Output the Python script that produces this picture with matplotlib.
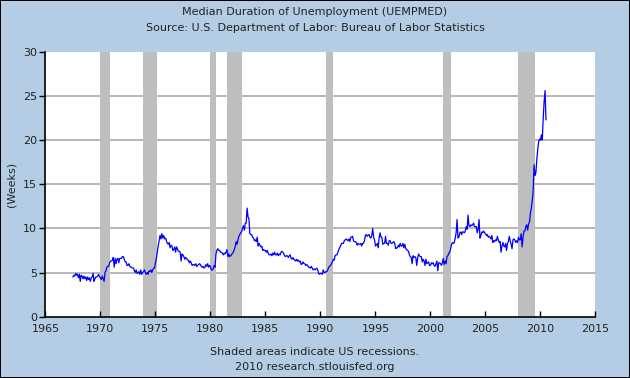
import numpy as np
import matplotlib
matplotlib.use("Agg")
from matplotlib import pyplot as plt

# Median duration of unemployment, weeks, monthly from Jul 1967
start_year = 1967
start_month = 7
median_weeks = [
    4.5, 4.7, 4.6, 4.9, 4.7, 4.8,
    4.4, 4.8, 4.0, 4.7, 4.6, 4.3, 4.6, 4.3, 4.5, 4.1, 4.5, 4.2,
    4.4, 4.0, 4.4, 4.5, 4.9, 4.0, 4.3, 4.5, 4.5, 4.6, 4.8, 4.5,
    4.4, 4.2, 4.6, 4.3, 4.0, 5.0, 5.2, 5.6, 5.7, 5.7, 6.1, 6.3,
    6.3, 6.4, 6.7, 5.6, 6.6, 6.0, 6.5, 6.6, 6.1, 6.6, 6.6, 6.6,
    6.8, 6.8, 6.5, 6.2, 6.2, 5.8, 5.8, 6.0, 5.7, 5.6, 5.6, 5.5,
    5.5, 5.2, 5.0, 5.3, 4.9, 5.0, 5.1, 4.8, 5.3, 4.8, 5.0, 5.1,
    5.3, 5.0, 4.8, 5.0, 4.8, 5.2, 5.1, 5.3, 5.0, 5.3, 5.5, 5.5,
    6.1, 6.6, 7.3, 8.0, 8.6, 9.2, 8.8, 9.4, 8.9, 9.2, 8.8, 8.9,
    8.6, 8.3, 8.2, 8.4, 7.8, 8.1, 8.0, 7.5, 7.6, 7.9, 7.3, 7.9,
    7.7, 7.4, 7.4, 7.3, 6.3, 7.1, 7.0, 6.8, 6.5, 6.7, 6.6, 6.4,
    6.4, 6.1, 6.3, 6.1, 5.8, 5.9, 5.9, 5.8, 6.0, 5.7, 5.8, 5.9,
    6.0, 5.9, 5.7, 5.6, 5.7, 5.5, 5.6, 5.9, 5.7, 6.0, 5.6, 5.8,
    5.7, 5.3, 5.3, 5.4, 5.8, 5.6, 7.1, 7.5, 7.7, 7.5, 7.5, 7.3,
    7.3, 7.2, 7.0, 7.2, 7.1, 7.3, 7.6, 6.8, 7.1, 6.8, 6.9, 7.0,
    7.2, 7.3, 7.6, 7.9, 8.5, 8.2, 8.7, 9.1, 9.3, 9.5, 9.6, 10.0,
    10.3, 9.8, 10.6, 10.6, 12.3, 11.3, 11.1, 9.4, 9.3, 9.3, 9.0, 8.9,
    8.6, 8.7, 8.5, 9.0, 8.0, 8.3, 8.1, 7.9, 8.0, 7.5, 7.6, 7.5,
    7.5, 7.3, 7.5, 7.2, 7.0, 7.0, 7.1, 6.9, 7.2, 7.0, 7.3, 7.0,
    7.0, 7.2, 6.9, 7.1, 7.0, 7.3, 7.4, 7.3, 7.1, 6.9, 6.8, 6.9,
    6.9, 6.7, 6.9, 7.0, 6.6, 6.5, 6.7, 6.5, 6.4, 6.3, 6.5, 6.3,
    6.4, 6.2, 6.3, 5.9, 6.0, 6.2, 6.0, 6.0, 5.8, 5.9, 5.8, 5.6,
    5.6, 5.5, 5.7, 5.5, 5.3, 5.4, 5.3, 5.4, 5.5, 5.3, 4.9, 4.8,
    4.9, 4.9, 4.8, 5.3, 5.0, 5.0, 5.1, 5.1, 5.3, 5.6, 5.7, 5.8,
    6.0, 6.2, 6.5, 6.4, 6.9, 7.0, 7.0, 7.3, 7.6, 7.8, 8.0, 8.3,
    8.3, 8.3, 8.6, 8.7, 8.8, 8.7, 8.6, 8.8, 8.5, 9.0, 9.0, 9.1,
    8.6, 8.5, 8.5, 8.4, 8.1, 8.3, 8.2, 8.2, 8.3, 8.0, 8.3, 8.3,
    8.6, 9.2, 9.3, 9.1, 9.2, 9.3, 9.0, 8.9, 9.2, 10.0, 9.0, 8.7,
    8.0, 8.1, 8.3, 7.8, 8.9, 9.5, 9.0, 9.0, 8.2, 8.3, 8.3, 9.1,
    8.3, 8.3, 8.1, 8.6, 8.6, 8.3, 8.3, 8.4, 8.5, 8.3, 7.7, 7.8,
    7.8, 8.1, 7.9, 8.3, 8.0, 8.0, 8.3, 7.8, 8.2, 7.7, 7.6, 7.5,
    7.4, 7.0, 6.8, 6.7, 6.0, 6.9, 6.7, 6.8, 6.7, 5.8, 6.6, 7.1,
    6.9, 6.8, 6.8, 6.2, 6.5, 6.3, 5.8, 6.5, 6.0, 6.1, 6.2, 5.8,
    5.8, 6.1, 6.0, 6.1, 5.8, 5.7, 6.0, 6.3, 5.2, 6.1, 6.1, 6.0,
    5.8, 6.1, 6.6, 5.9, 6.3, 6.0, 6.8, 6.9, 7.2, 7.3, 7.7, 8.2,
    8.4, 8.3, 8.4, 8.9, 9.5, 11.0, 8.9, 9.0, 9.5, 9.6, 9.3, 9.6,
    9.6, 9.5, 9.7, 10.2, 9.9, 11.5, 10.3, 10.2, 10.4, 10.3, 10.4, 10.6,
    10.2, 10.2, 10.2, 9.5, 9.9, 11.0, 8.9, 9.2, 9.6, 9.5, 9.7, 9.5,
    9.4, 9.2, 9.3, 9.0, 9.1, 9.0, 8.8, 9.2, 8.4, 8.6, 8.5, 8.7,
    8.6, 9.1, 8.7, 8.4, 8.5, 7.3, 8.0, 8.4, 8.0, 7.9, 8.3, 7.5,
    8.3, 8.5, 9.1, 8.6, 8.2, 7.7, 8.7, 8.8, 8.7, 8.4, 8.6, 8.4,
    9.0, 8.7, 8.7, 9.4, 7.9, 9.0, 9.7, 9.7, 10.2, 10.4, 9.8, 10.5,
    10.7, 11.7, 12.3, 13.1, 14.2, 17.2, 16.0, 16.3, 17.8, 18.9, 19.8, 20.1,
    20.0, 20.6, 20.0, 22.5, 24.4, 25.6, 22.3,
]

# NBER recessions (decimal years)
rec_start = [1969.92, 1973.83, 1980.0, 1981.5, 1990.5, 2001.17, 2007.92]
rec_end = [1970.83, 1975.17, 1980.5, 1982.83, 1991.17, 2001.83, 2009.5]

x_ticks = [1965, 1970, 1975, 1980, 1985, 1990, 1995, 2000, 2005, 2010, 2015]
y_ticks = [0, 5, 10, 15, 20, 25, 30]

bg = "#B4CDE5"
txt = "#222222"

dates = start_year + (start_month - 1) / 12 + np.arange(len(median_weeks)) / 12

fig = plt.figure(figsize=(6.3, 3.78), dpi=100, facecolor=bg,
                 edgecolor="black", linewidth=1.2)
ax = fig.add_axes([0.0721, 0.1622, 0.8731, 0.701])
ax.set_facecolor("white")

for s, e in zip(rec_start, rec_end):
    ax.axvspan(s, e, color="#BEBEBE", lw=0, zorder=1)

for v in y_ticks[1:-1]:
    ax.axhline(v, color="#AAAAAA", lw=1.2, zorder=0.5)

ax.plot(dates, median_weeks, color="#0000FF", lw=0.9, zorder=3)

ax.set_xlim(1965, 2015)
ax.set_ylim(0, 30)
ax.set_xticks(x_ticks)
ax.set_yticks(y_ticks)
ax.tick_params(axis="x", direction="in", length=4, width=1, color="black",
               labelsize=8, labelcolor=txt, pad=5)
ax.tick_params(axis="y", direction="out", length=4, width=1, color="black",
               labelsize=8, labelcolor=txt, pad=2)
for side in ["top", "right"]:
    ax.spines[side].set_visible(False)
for side in ["left", "bottom"]:
    ax.spines[side].set_color("black")
    ax.spines[side].set_linewidth(1.2)

ax.set_ylabel("(Weeks)", fontsize=8, color=txt, labelpad=5)

fig.text(0.5, 1 - 12 / 378, "Median Duration of Unemployment (UEMPMED)",
         ha="center", va="center", fontsize=8, color=txt)
fig.text(0.5, 1 - 28 / 378, "Source: U.S. Department of Labor: Bureau of Labor Statistics",
         ha="center", va="center", fontsize=8, color=txt)
fig.text(0.5, 1 - 352 / 378, "Shaded areas indicate US recessions.",
         ha="center", va="center", fontsize=8, color=txt)
fig.text(0.5, 1 - 367 / 378, "2010 research.stlouisfed.org",
         ha="center", va="center", fontsize=8, color=txt)

fig.savefig("out.png", dpi=100, facecolor=bg, edgecolor="black")
